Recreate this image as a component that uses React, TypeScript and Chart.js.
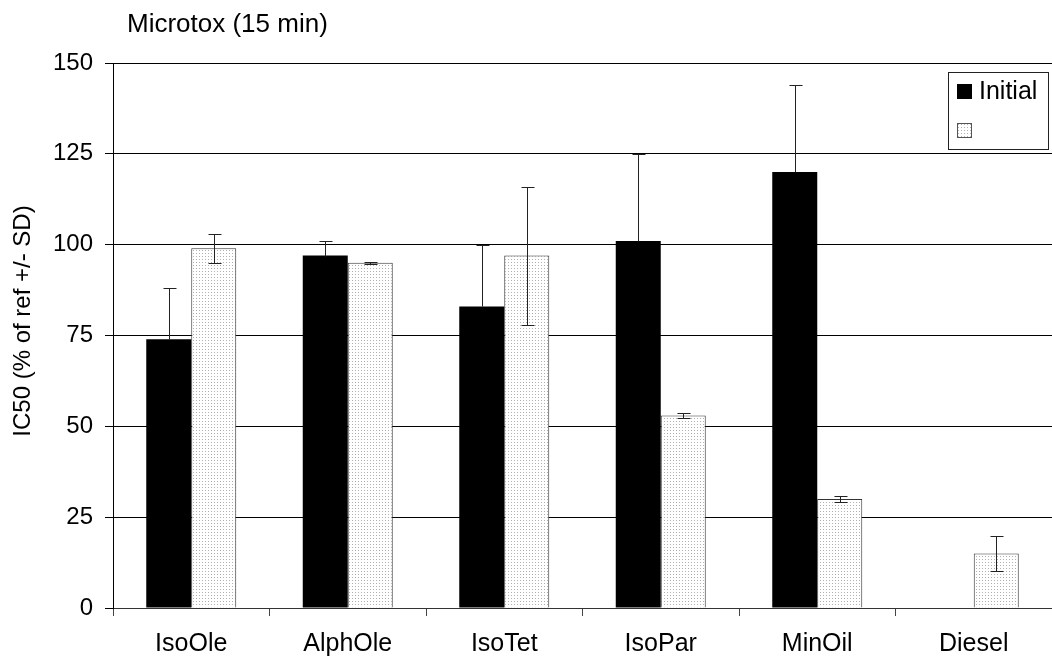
import React, { useEffect, useRef } from "react";
import { Chart, registerables } from "chart.js";

Chart.register(...registerables);

const categories = ["IsoOle", "AlphOle", "IsoTet", "IsoPar", "MinOil", "Diesel"];
const initialValues = [74, 97, 83, 101, 120, null];
const initialSD = [14, 4, 17, 24, 24, null];
const secondValues = [99, 95, 97, 53, 30, 15];
const secondSD = [4, 0.2, 19, 0.8, 0.8, 4.7];
const seriesLabels = ["Initial", ""];
const yTicks = [0, 25, 50, 75, 100, 125, 150];
const chartTitle = "Microtox (15 min)";
const yTitle = "IC50 (% of ref +/- SD)";

const FONT = "'Liberation Sans', Arial, Helvetica, sans-serif";

function makePattern(): CanvasPattern | string {
  const c = document.createElement("canvas");
  c.width = 3;
  c.height = 3;
  const x = c.getContext("2d");
  if (!x) return "#e6e6e6";
  x.fillStyle = "#ffffff";
  x.fillRect(0, 0, 3, 3);
  x.fillStyle = "#b0b0b0";
  x.fillRect(1, 1, 1, 1);
  const p = x.createPattern(c, "repeat");
  return p || "#e6e6e6";
}

export default function App() {
  const ref = useRef<HTMLCanvasElement | null>(null);

  useEffect(() => {
    const canvas = ref.current;
    if (!canvas) return;
    const pattern = makePattern();
    const sds = [initialSD, secondSD];

    const errorBars = {
      id: "errorBars",
      afterDatasetsDraw(chart: any) {
        const ctx = chart.ctx;
        const y = chart.scales.y;
        ctx.save();
        ctx.strokeStyle = "#222";
        ctx.lineWidth = 1;
        chart.data.datasets.forEach((ds: any, di: number) => {
          const meta = chart.getDatasetMeta(di);
          meta.data.forEach((bar: any, i: number) => {
            const v = ds.data[i];
            const sd = sds[di][i];
            if (v == null || sd == null) return;
            const x = Math.round(bar.x) + 0.5;
            const yt = Math.round(y.getPixelForValue(v + sd)) + 0.5;
            const yb = Math.round(y.getPixelForValue(v - sd)) + 0.5;
            const yv = Math.round(y.getPixelForValue(v)) + 0.5;
            const solid = di === 0;
            ctx.beginPath();
            ctx.moveTo(x, yt);
            ctx.lineTo(x, solid ? yv : yb);
            ctx.moveTo(x - 6, yt);
            ctx.lineTo(x + 7, yt);
            if (!solid) {
              ctx.moveTo(x - 6, yb);
              ctx.lineTo(x + 7, yb);
            }
            ctx.stroke();
          });
        });
        ctx.restore();
      },
    };

    const decorations = {
      id: "decorations",
      afterDraw(chart: any) {
        const ctx = chart.ctx;
        ctx.save();
        ctx.fillStyle = "#000";
        ctx.font = `26px ${FONT}`;
        ctx.textAlign = "left";
        ctx.textBaseline = "middle";
        ctx.fillText(chartTitle, 127, 25);

        ctx.save();
        ctx.font = `24px ${FONT}`;
        ctx.translate(23, 321);
        ctx.rotate(-Math.PI / 2);
        ctx.textAlign = "center";
        ctx.textBaseline = "middle";
        ctx.fillText(yTitle, 0, 0);
        ctx.restore();

        // legend
        ctx.fillStyle = "#fff";
        ctx.fillRect(948, 72, 100, 77);
        ctx.strokeStyle = "#222";
        ctx.lineWidth = 1;
        ctx.strokeRect(948.5, 72.5, 100, 77);
        ctx.fillStyle = "#000";
        ctx.fillRect(957, 84, 15, 15);
        ctx.font = `25px ${FONT}`;
        ctx.textAlign = "left";
        ctx.textBaseline = "middle";
        ctx.fillText(seriesLabels[0], 979, 92);
        ctx.fillStyle = pattern as any;
        ctx.fillRect(957, 123, 15, 15);
        ctx.strokeStyle = "#555";
        ctx.strokeRect(957.5, 123.5, 14, 14);
        if (seriesLabels[1]) ctx.fillText(seriesLabels[1], 979, 130);
        ctx.restore();
      },
    };

    const chart = new Chart(canvas, {
      type: "bar",
      data: {
        labels: categories,
        datasets: [
          {
            label: seriesLabels[0],
            data: initialValues as any,
            backgroundColor: "#000",
            borderWidth: 0,
            categoryPercentage: 0.575,
            barPercentage: 1,
          },
          {
            label: seriesLabels[1],
            data: secondValues,
            backgroundColor: pattern as any,
            borderColor: "#333",
            borderWidth: 1,
            borderSkipped: "bottom",
            categoryPercentage: 0.575,
            barPercentage: 1,
          },
        ],
      },
      options: {
        responsive: false,
        animation: false,
        layout: { padding: { top: 63, right: 0, left: 0, bottom: 0 } },
        plugins: {
          legend: { display: false },
          tooltip: { enabled: false },
          title: { display: false },
        },
        scales: {
          x: {
            offset: true,
            grid: {
              display: true,
              offset: true,
              drawOnChartArea: false,
              drawTicks: true,
              tickLength: 8,
              color: "#444",
            },
            border: { display: true, color: "#333", width: 1 },
            ticks: {
              color: "#000",
              font: { family: FONT, size: 25 },
              padding: 13,
              maxRotation: 0,
            },
            afterFit(scale: any) {
              scale.height = 52;
            },
          },
          y: {
            min: 0,
            max: 150,
            afterBuildTicks(scale: any) {
              scale.ticks = yTicks.map((v) => ({ value: v }));
            },
            grid: {
              color: "#000",
              lineWidth: 1,
              drawTicks: true,
              tickLength: 8,
            },
            border: { display: true, color: "#000", width: 1 },
            ticks: {
              color: "#000",
              font: { family: FONT, size: 24 },
              padding: 12,
            },
            afterFit(scale: any) {
              scale.width = 113;
            },
          },
        },
      },
      plugins: [errorBars, decorations],
    });

    return () => chart.destroy();
  }, []);

  return (
    <div style={{ position: "fixed", left: 0, top: 0, width: 1052, height: 660, background: "#fff" }}>
      <canvas ref={ref} width={1052} height={660} style={{ display: "block" }} />
    </div>
  );
}
